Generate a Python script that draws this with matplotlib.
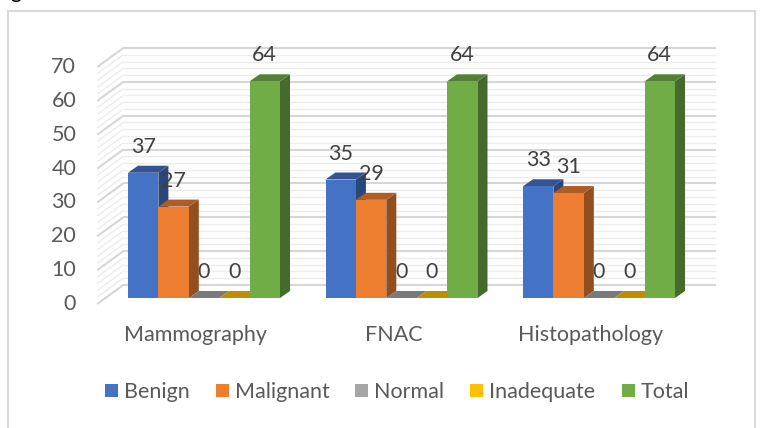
import matplotlib
matplotlib.use("Agg")
import matplotlib.pyplot as plt
from matplotlib.patches import Polygon, Rectangle, Patch
import numpy as np

# chart data
categories = ["Mammography", "FNAC", "Histopathology"]
series = ["Benign", "Malignant", "Normal", "Inadequate", "Total"]
benign = [37, 35, 33]
malignant = [27, 29, 31]
normal = [0, 0, 0]
inadequate = [0, 0, 0]
total = [64, 64, 64]
values = [benign, malignant, normal, inadequate, total]
y_ticks = [0, 10, 20, 30, 40, 50, 60, 70]

colors = ["#4472C4", "#ED7D31", "#A5A5A5", "#FFC000", "#70AD47"]

W, H = 761, 428
FONT = "Lato"
FS = 15.5
TXT = "#595959"

fig = plt.figure(figsize=(W / 100, H / 100), dpi=100)

# front plane of the bars, in pixels
left_px, right_px = 105.25, 697.75
bottom_px, top_px = 298, 61
ax = fig.add_axes([left_px / W, (H - bottom_px) / H,
                   (right_px - left_px) / W, (bottom_px - top_px) / H])
ax.set_xlim(-0.5, 2.5)
ax.set_ylim(0, 70)
ax.axis("off")

# data units per pixel
ux = 3.0 / (right_px - left_px)
uy = 70.0 / (bottom_px - top_px)


def off(dx, dy):
    return dx * ux, dy * uy


FRONT = off(-8, -6)
BACK = off(18, 13)
DEPTH = off(10, 7)


def shade(c, f):
    rgb = np.array(matplotlib.colors.to_rgb(c))
    return tuple(rgb * f)


# walls: back wall and left side wall with major/minor grid
for v in range(0, 71, 2):
    major = v % 10 == 0
    col = "#d6d6d6" if major else "#ececec"
    lw = 1.5 if major else 1.0
    ax.plot([-0.5 + BACK[0], 2.5 + BACK[0]], [v + BACK[1], v + BACK[1]],
            color=col, lw=lw, zorder=1, clip_on=False, solid_capstyle="butt")
    ax.plot([-0.5 + FRONT[0], -0.5 + BACK[0]], [v + FRONT[1], v + BACK[1]],
            color=col, lw=lw, zorder=1, clip_on=False, solid_capstyle="butt")

# y tick labels at the front edge of the side wall
for v in y_ticks:
    ax.annotate(str(v), xy=(-0.5 + FRONT[0], v + FRONT[1]), xytext=(-21 * 0.72, 0),
                textcoords="offset points", ha="right", va="center",
                fontsize=FS, family=FONT, color=TXT, annotation_clip=False)

# 3D-looking bars
bw = 30.4 * ux
for g in range(len(categories)):
    for s, name in enumerate(series):
        v = values[s][g]
        x0 = g - 2.5 * bw + s * bw
        x1 = x0 + bw
        z = 3 + s * 3
        c = colors[s]
        side = Polygon([(x1, 0), (x1, v), (x1 + DEPTH[0], v + DEPTH[1]),
                        (x1 + DEPTH[0], DEPTH[1])], closed=True,
                       facecolor=shade(c, 0.62), edgecolor="none", zorder=z)
        top = Polygon([(x0, v), (x1, v), (x1 + DEPTH[0], v + DEPTH[1]),
                       (x0 + DEPTH[0], v + DEPTH[1])], closed=True,
                      facecolor=shade(c, 0.74), edgecolor="none", zorder=z + 1)
        ax.add_patch(side)
        ax.add_patch(top)
        ax.bar(x0, v, width=bw, align="edge", color=c, zorder=z + 2,
               linewidth=0)
        ax.annotate(str(v), xy=(x0 + bw / 2, v), xytext=(0, 26 * 0.72),
                    textcoords="offset points", ha="center", va="center",
                    fontsize=FS, family=FONT, color="#404040", zorder=30,
                    annotation_clip=False)

# category labels under the floor
for g, name in enumerate(categories):
    ax.annotate(name, xy=(g + FRONT[0], FRONT[1]), xytext=(0, -31 * 0.72),
                textcoords="offset points", ha="center", va="center",
                fontsize=FS, family=FONT, color=TXT, annotation_clip=False)

# legend
handles = [Patch(facecolor=c, edgecolor="none", label=n) for c, n in zip(colors, series)]
fig.legend(handles=handles, loc="center", bbox_to_anchor=(397 / W, 1 - 392 / H),
           ncol=5, frameon=False, prop={"family": FONT, "size": FS},
           labelcolor=TXT, handlelength=13 * 0.72 / FS, handleheight=13 * 0.72 / FS,
           handletextpad=6 * 0.72 / FS, columnspacing=26 * 0.72 / FS,
           borderaxespad=0, borderpad=0)

# chart border
fig.patches.append(Rectangle((8 / W, -0.05), (755 - 8) / W, 1.05 - 11 / H,
                             transform=fig.transFigure, fill=False,
                             edgecolor="#d9d9d9", lw=1.5))

# tail of the caption text above the chart
fig.text(10 / W, 1 + 2 / H, "g", fontsize=15, family=FONT, color="black",
         ha="left", va="baseline")

fig.savefig("out.png", dpi=100)
